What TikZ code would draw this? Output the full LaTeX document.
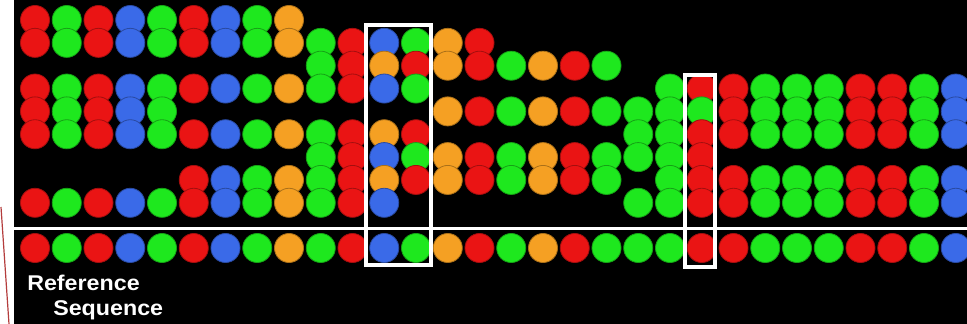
\documentclass[tikz,border=0pt]{standalone}
\usepackage{fontspec}
\setmainfont{Liberation Sans}
\definecolor{cR}{RGB}{234,20,20}
\definecolor{cG}{RGB}{30,232,30}
\definecolor{cB}{RGB}{58,106,232}
\definecolor{cO}{RGB}{245,160,35}
\definecolor{cLine}{RGB}{180,60,60}
\tikzset{
  dot/.style={circle, minimum size=21.8pt, inner sep=0pt, outer sep=0pt, line width=0.6pt},
  selbox/.style={draw=white, line width=3pt},
  label/.style={anchor=base west, text=white, inner sep=0pt, font=\bfseries\fontsize{16}{19}\selectfont}
}
\newcommand\circrow[2]{%
  \foreach \c [count=\i from 0] in {#2}{%
    \if N\c\else
      \node[dot, fill=c\c, draw=c\c!70!black] (n-\i-#1) at ({35+31.75*\i},{20+22.85*#1}) {};
    \fi}}
\begin{document}
\begin{tikzpicture}[x=0.75pt,y=-0.75pt]
\useasboundingbox (0,0) rectangle (967,324);
\fill[white] (0,0) rectangle (967,324);
\fill[black] (14,0) rectangle (967,324);
\draw[cLine, line width=0.9pt] (1,207) -- (9,324);
% rows of circles (lower rows drawn on top)
\circrow{0}{R,G,R,B,G,R,B,G,O,N,N,N,N,N,N,N,N,N,N,N,N,N,N,N,N,N,N,N,N,N}
\circrow{1}{R,G,R,B,G,R,B,G,O,G,R,B,G,O,R,N,N,N,N,N,N,N,N,N,N,N,N,N,N,N}
\circrow{2}{N,N,N,N,N,N,N,N,N,G,R,O,R,O,R,G,O,R,G,N,N,N,N,N,N,N,N,N,N,N}
\circrow{3}{R,G,R,B,G,R,B,G,O,G,R,B,G,N,N,N,N,N,N,N,G,R,R,G,G,G,R,R,G,B}
\circrow{4}{R,G,R,B,G,N,N,N,N,N,N,N,N,O,R,G,O,R,G,G,G,G,R,G,G,G,R,R,G,B}
\circrow{5}{R,G,R,B,G,R,B,G,O,G,R,O,R,N,N,N,N,N,N,G,G,R,R,G,G,G,R,R,G,B}
\circrow{6}{N,N,N,N,N,N,N,N,N,G,R,B,G,O,R,G,O,R,G,G,G,R,N,N,N,N,N,N,N,N}
\circrow{7}{N,N,N,N,N,R,B,G,O,G,R,O,R,O,R,G,O,R,G,N,G,R,R,G,G,G,R,R,G,B}
\circrow{8}{R,G,R,B,G,R,B,G,O,G,R,B,N,N,N,N,N,N,N,G,G,R,R,G,G,G,R,R,G,B}
% separator line
\draw[white, line width=2.5pt] (14,228.3) -- (967,228.3);
% reference sequence
\foreach \c [count=\i from 0] in {R,G,R,B,G,R,B,G,O,G,R,B,G,O,R,G,O,R,G,G,G,R,R,G,G,G,R,R,G,B}{%
  \node[dot, fill=c\c, draw=c\c!70!black] (ref-\i) at ({35+31.75*\i},248) {};}
% selection boxes
\draw[selbox] (366,25.5) rectangle (430.5,265);
\draw[selbox] (684.5,75) rectangle (714.5,267);
% labels
\node[label] (lab1) at (27,290.5) {\scalebox{1.09}[1]{Reference}};
\node[label] (lab2) at (53,315) {\scalebox{1.09}[1]{Sequence}};
\end{tikzpicture}
\end{document}
